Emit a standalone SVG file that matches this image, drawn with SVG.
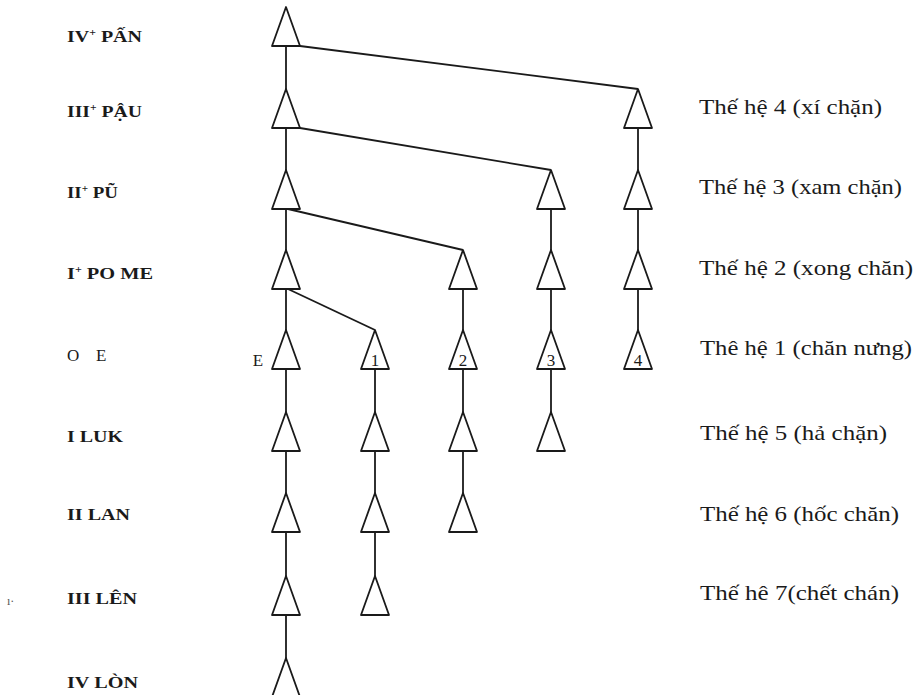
<svg xmlns="http://www.w3.org/2000/svg" width="916" height="695" viewBox="0 0 916 695">
<defs>
<style>
.tri{fill:#fff;stroke:#1a1a1a;stroke-width:1.8;stroke-linejoin:round}
.ln{stroke:#1a1a1a;stroke-width:1.8;fill:none}
.lab{font-family:"Liberation Serif",serif;font-weight:bold;font-size:17px;fill:#1a1a1a}
.gen{font-family:"Liberation Serif",serif;font-size:21px;fill:#1a1a1a}
.num{font-family:"Liberation Serif",serif;font-size:17px;fill:#1a1a1a;text-anchor:middle}
.sup{font-size:10px}
</style>
<path id="t" d="M0,0 L14,39 L-14,39 Z"/>
</defs>
<rect width="916" height="695" fill="#fff"/>
<g id="labels-left">
<text class="lab" x="67" y="42" textLength="75" lengthAdjust="spacingAndGlyphs">IV<tspan class="sup" dy="-6">+</tspan><tspan dy="6"> PẤN</tspan></text>
<text class="lab" x="67" y="117" textLength="75" lengthAdjust="spacingAndGlyphs">III<tspan class="sup" dy="-6">+</tspan><tspan dy="6"> PẬU</tspan></text>
<text class="lab" x="67" y="198" textLength="51" lengthAdjust="spacingAndGlyphs">II<tspan class="sup" dy="-6">+</tspan><tspan dy="6"> PŨ</tspan></text>
<text class="lab" x="67" y="279" textLength="86" lengthAdjust="spacingAndGlyphs">I<tspan class="sup" dy="-6">+</tspan><tspan dy="6"> PO ME</tspan></text>
<text class="lab" x="67" y="361" style="font-weight:normal">O</text>
<text class="lab" x="96" y="361" style="font-weight:normal">E</text>
<text class="lab" x="67" y="442" textLength="56" lengthAdjust="spacingAndGlyphs">I LUK</text>
<text class="lab" x="67" y="520" textLength="63" lengthAdjust="spacingAndGlyphs">II LAN</text>
<text class="lab" x="67" y="604" textLength="70" lengthAdjust="spacingAndGlyphs">III LÊN</text>
<text class="lab" x="67" y="688" textLength="71" lengthAdjust="spacingAndGlyphs">IV LÒN</text>
<text x="7" y="605" style="font-family:'Liberation Serif',serif;font-size:12px;fill:#555">ı·</text>
</g>
<g id="connectors">
<line class="ln" x1="286" y1="46" x2="286" y2="89"/>
<line class="ln" x1="286" y1="128" x2="286" y2="170"/>
<line class="ln" x1="286" y1="209" x2="286" y2="250"/>
<line class="ln" x1="286" y1="289" x2="286" y2="330"/>
<line class="ln" x1="286" y1="369" x2="286" y2="412"/>
<line class="ln" x1="286" y1="451" x2="286" y2="493"/>
<line class="ln" x1="286" y1="532" x2="286" y2="576"/>
<line class="ln" x1="286" y1="615" x2="286" y2="658"/>
<line class="ln" x1="375" y1="369" x2="375" y2="412"/>
<line class="ln" x1="375" y1="451" x2="375" y2="493"/>
<line class="ln" x1="375" y1="532" x2="375" y2="576"/>
<line class="ln" x1="463" y1="289" x2="463" y2="330"/>
<line class="ln" x1="463" y1="369" x2="463" y2="412"/>
<line class="ln" x1="463" y1="451" x2="463" y2="493"/>
<line class="ln" x1="551" y1="209" x2="551" y2="250"/>
<line class="ln" x1="551" y1="289" x2="551" y2="330"/>
<line class="ln" x1="551" y1="369" x2="551" y2="412"/>
<line class="ln" x1="638" y1="128" x2="638" y2="170"/>
<line class="ln" x1="638" y1="209" x2="638" y2="250"/>
<line class="ln" x1="638" y1="289" x2="638" y2="330"/>
<line class="ln" x1="300" y1="46" x2="638" y2="89"/>
<line class="ln" x1="300" y1="128" x2="551" y2="170"/>
<line class="ln" x1="288" y1="209" x2="463" y2="250"/>
<line class="ln" x1="288" y1="289" x2="375" y2="330"/>
</g>
<g id="col1">
<use href="#t" class="tri" x="286" y="7"/>
<use href="#t" class="tri" x="286" y="89"/>
<use href="#t" class="tri" x="286" y="170"/>
<use href="#t" class="tri" x="286" y="250"/>
<use href="#t" class="tri" x="286" y="330"/>
<use href="#t" class="tri" x="286" y="412"/>
<use href="#t" class="tri" x="286" y="493"/>
<use href="#t" class="tri" x="286" y="576"/>
<use href="#t" class="tri" x="286" y="658"/>
<text class="num" x="258" y="366">E</text>
</g>
<g id="col2">
<use href="#t" class="tri" x="375" y="330"/>
<use href="#t" class="tri" x="375" y="412"/>
<use href="#t" class="tri" x="375" y="493"/>
<use href="#t" class="tri" x="375" y="576"/>
<text class="num" x="375" y="366">1</text>
</g>
<g id="col3">
<use href="#t" class="tri" x="463" y="250"/>
<use href="#t" class="tri" x="463" y="330"/>
<use href="#t" class="tri" x="463" y="412"/>
<use href="#t" class="tri" x="463" y="493"/>
<text class="num" x="463" y="366">2</text>
</g>
<g id="col4">
<use href="#t" class="tri" x="551" y="170"/>
<use href="#t" class="tri" x="551" y="250"/>
<use href="#t" class="tri" x="551" y="330"/>
<use href="#t" class="tri" x="551" y="412"/>
<text class="num" x="551" y="366">3</text>
</g>
<g id="col5">
<use href="#t" class="tri" x="638" y="89"/>
<use href="#t" class="tri" x="638" y="170"/>
<use href="#t" class="tri" x="638" y="250"/>
<use href="#t" class="tri" x="638" y="330"/>
<text class="num" x="638" y="366">4</text>
</g>
<g id="labels-right">
<text class="gen" x="699" y="114" textLength="183" lengthAdjust="spacingAndGlyphs">Thế hệ 4 (xí chặn)</text>
<text class="gen" x="699" y="194" textLength="203" lengthAdjust="spacingAndGlyphs">Thế hệ 3 (xam chặn)</text>
<text class="gen" x="699" y="275" textLength="214" lengthAdjust="spacingAndGlyphs">Thế hệ 2 (xong chăn)</text>
<text class="gen" x="700" y="355" textLength="212" lengthAdjust="spacingAndGlyphs">Thê hệ 1 (chăn nưng)</text>
<text class="gen" x="700" y="440" textLength="187" lengthAdjust="spacingAndGlyphs">Thế hệ 5 (hả chặn)</text>
<text class="gen" x="700" y="521" textLength="199" lengthAdjust="spacingAndGlyphs">Thế hệ 6 (hốc chăn)</text>
<text class="gen" x="700" y="600" textLength="199" lengthAdjust="spacingAndGlyphs">Thế hê 7(chết chán)</text>
</g>
</svg>
